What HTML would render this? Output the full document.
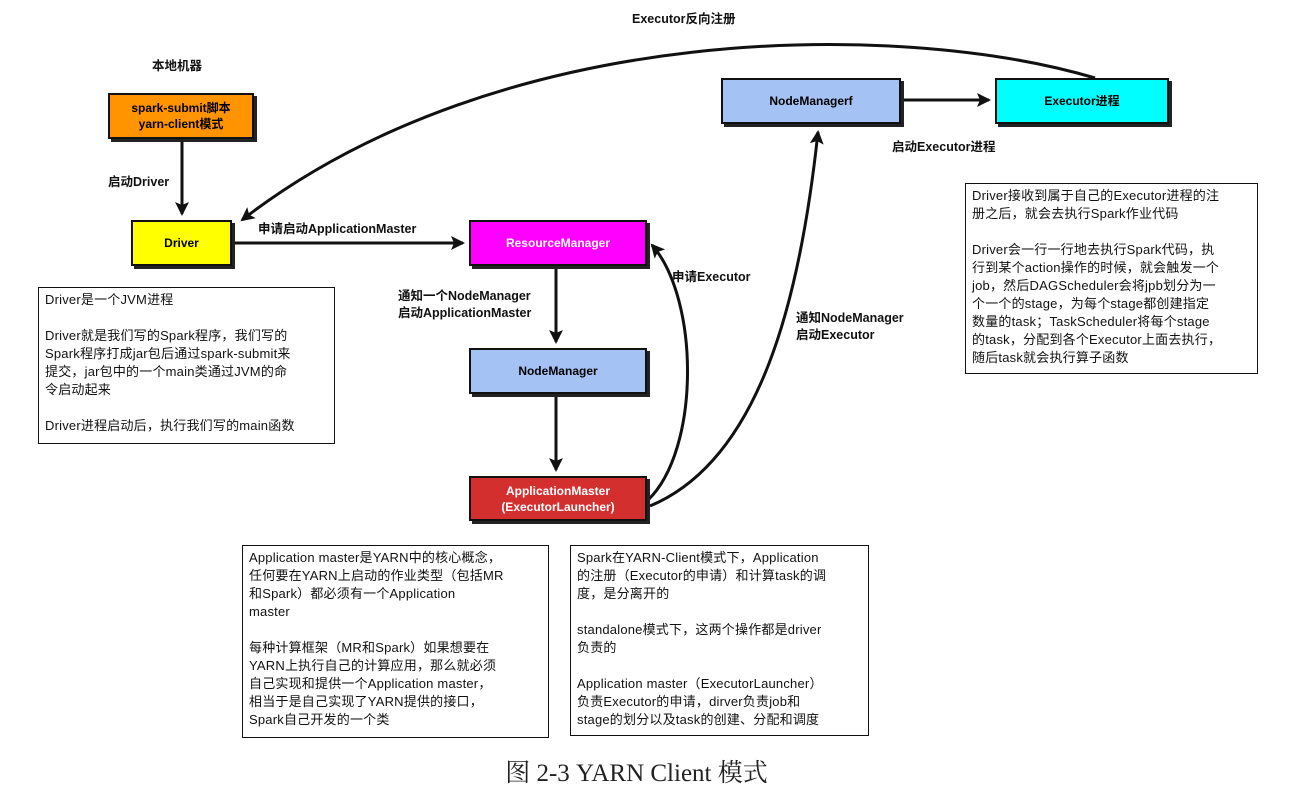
<!DOCTYPE html>
<html><head><meta charset="utf-8"><style>
body{margin:0;width:1293px;height:804px;background:#fff;position:relative;overflow:hidden;font-family:"Liberation Sans","Noto Sans CJK SC",sans-serif;}
.b{position:absolute;border:2px solid #111;box-shadow:3px 3px 0 #222;display:flex;align-items:center;justify-content:center;text-align:center;font-weight:bold;font-size:12px;line-height:16px;box-sizing:border-box;}
.l{position:absolute;font-weight:bold;font-size:12.5px;line-height:17px;color:#111;white-space:nowrap;}
.n{position:absolute;border:1.5px solid #111;box-sizing:border-box;padding:3px 6px;font-size:13px;line-height:18px;color:#111;white-space:nowrap;letter-spacing:0.2px}
.n p{margin:0 0 18px 0}.n p:last-child{margin:0}
svg{position:absolute;left:0;top:0}
</style></head><body>
<svg width="1293" height="804">
<defs><marker id="A" markerWidth="14" markerHeight="14" refX="12" refY="7" orient="auto" markerUnits="userSpaceOnUse"><path d="M0,0 L14,7 L0,14 L3,7 z" fill="#111"/></marker></defs>
<g stroke="#111" stroke-width="3" fill="none">
<path d="M182,140 L182,214" marker-end="url(#A)"/>
<path d="M232,243 L463,243" marker-end="url(#A)"/>
<path d="M556,267 L556,342" marker-end="url(#A)"/>
<path d="M556,395 L556,470" marker-end="url(#A)"/>
<path d="M902,100 L989,100" marker-end="url(#A)"/>
<path d="M1095,78 C900,20 500,20 242,220" marker-end="url(#A)"/>
<path d="M648,500 C700,450 700,300 652,245" marker-end="url(#A)"/>
<path d="M650,506 C760,460 800,300 818,132" marker-end="url(#A)"/>
</g></svg>
<div class="l" style="left:632px;top:11px">Executor反向注册</div>
<div class="l" style="left:152px;top:58px">本地机器</div>
<div class="b" style="left:108px;top:93px;width:146px;height:46px;background:#FF9400">spark-submit脚本<br>yarn-client模式</div>
<div class="l" style="left:108px;top:174px">启动Driver</div>
<div class="b" style="left:131px;top:220px;width:101px;height:46px;background:#FFFF00">Driver</div>
<div class="l" style="left:258px;top:221px">申请启动ApplicationMaster</div>
<div class="b" style="left:469px;top:220px;width:178px;height:46px;background:#FF00FF;color:#fff">ResourceManager</div>
<div class="l" style="left:398px;top:288px">通知一个NodeManager<br>启动ApplicationMaster</div>
<div class="l" style="left:672px;top:269px">申请Executor</div>
<div class="b" style="left:469px;top:348px;width:178px;height:46px;background:#A4C2F4">NodeManager</div>
<div class="b" style="left:469px;top:476px;width:178px;height:45px;background:#D32F2F;color:#fff">ApplicationMaster<br>(ExecutorLauncher)</div>
<div class="b" style="left:721px;top:78px;width:180px;height:46px;background:#A4C2F4">NodeManagerf</div>
<div class="b" style="left:995px;top:78px;width:174px;height:46px;background:#00FFFF">Executor进程</div>
<div class="l" style="left:892px;top:139px">启动Executor进程</div>
<div class="l" style="left:796px;top:310px">通知NodeManager<br>启动Executor</div>
<div class="n" style="left:38px;top:287px;width:297px;height:157px"><p>Driver是一个JVM进程</p><p>Driver就是我们写的Spark程序，我们写的<br>Spark程序打成jar包后通过spark-submit来<br>提交，jar包中的一个main类通过JVM的命<br>令启动起来</p><p>Driver进程启动后，执行我们写的main函数</p></div>
<div class="n" style="left:965px;top:183px;width:293px;height:191px"><p>Driver接收到属于自己的Executor进程的注<br>册之后，就会去执行Spark作业代码</p><p>Driver会一行一行地去执行Spark代码，执<br>行到某个action操作的时候，就会触发一个<br>job，然后DAGScheduler会将jpb划分为一<br>个一个的stage，为每个stage都创建指定<br>数量的task；TaskScheduler将每个stage<br>的task，分配到各个Executor上面去执行，<br>随后task就会执行算子函数</p></div>
<div class="n" style="left:242px;top:545px;width:307px;height:193px"><p>Application master是YARN中的核心概念，<br>任何要在YARN上启动的作业类型（包括MR<br>和Spark）都必须有一个Application<br>master</p><p>每种计算框架（MR和Spark）如果想要在<br>YARN上执行自己的计算应用，那么就必须<br>自己实现和提供一个Application master，<br>相当于是自己实现了YARN提供的接口，<br>Spark自己开发的一个类</p></div>
<div class="n" style="left:570px;top:545px;width:299px;height:191px"><p>Spark在YARN-Client模式下，Application<br>的注册（Executor的申请）和计算task的调<br>度，是分离开的</p><p>standalone模式下，这两个操作都是driver<br>负责的</p><p>Application master（ExecutorLauncher）<br>负责Executor的申请，dirver负责job和<br>stage的划分以及task的创建、分配和调度</p></div>
<div style="position:absolute;left:0;width:1273px;top:753px;text-align:center;font-family:'Liberation Serif','Noto Serif CJK SC',serif;font-size:25px;color:#222">图 2-3 YARN Client 模式</div>
</body></html>
